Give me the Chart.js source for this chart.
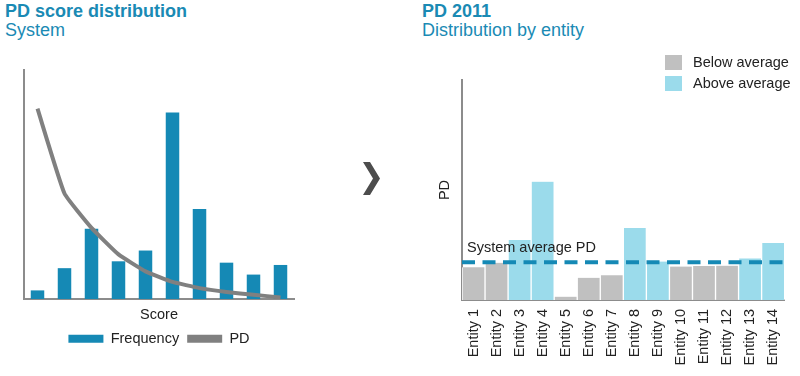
<!DOCTYPE html>
<html>
<head>
<meta charset="utf-8">
<script src="https://cdn.jsdelivr.net/npm/chart.js@4.4.0/dist/chart.umd.min.js"></script>
<style>
  body { margin: 0; width: 800px; height: 376px; position: relative; overflow: hidden; background: #fff;
         font-family: "Liberation Sans", Arial, sans-serif; color: #222; }
  .heading { position: absolute; top: 1.5px; font-size: 18px; line-height: 19px; color: #1a8ab4; }
  .heading b { display: block; }
  canvas { position: absolute; top: 0; }
  #chevron { position: absolute; left: 0; top: 0; }
  .legend { position: absolute; left: 665px; top: 55px; font-size: 14.5px; }
  .legend div { height: 21px; position: relative; }
  .legend span.box { position: absolute; left: 0; top: 0; width: 17px; height: 15px; }
  .legend span.txt { position: absolute; left: 28px; top: -1px; white-space: nowrap; }
</style>
</head>
<body>

<div class="heading" style="left:5px"><b>PD score distribution</b>System</div>
<div class="heading" style="left:422px"><b>PD 2011</b>Distribution by entity</div>

<canvas id="scoreChart" width="310" height="376" style="left:0"></canvas>

<svg id="chevron" width="800" height="376">
  <polygon points="363,162 370,162 380,178.5 370,195 363,195 373,178.5" fill="#4d4d4d"/>
</svg>

<canvas id="entityChart" width="400" height="376" style="left:400px"></canvas>

<div class="legend" id="entityLegend"></div>

<script>
// Left chart: score distribution
const scoreBins = ['1', '2', '3', '4', '5', '6', '7', '8', '9', '10'];
const frequency = [3.8, 13.5, 30.7, 16.5, 21.2, 81.4, 39.3, 15.9, 10.7, 14.9];
const pdCurve = [83.1, 46.1, 31.1, 19.5, 12.1, 7.5, 4.8, 3.1, 1.9, 0.7];

// Right chart: PD by entity
const entities = ['Entity 1', 'Entity 2', 'Entity 3', 'Entity 4', 'Entity 5', 'Entity 6', 'Entity 7',
                  'Entity 8', 'Entity 9', 'Entity 10', 'Entity 11', 'Entity 12', 'Entity 13', 'Entity 14'];
const entityPD = [14.9, 16.9, 27.3, 53.8, 1.5, 10.1, 11.2, 32.7, 17.5, 15.2, 15.5, 15.6, 18.9, 25.9];
const systemAverage = 17.2;

const BLUE = '#1589b5';
const LIGHT_BLUE = '#9bdbeb';
const GREY = '#c0c0c0';
const AXIS = '#8c8c8c';

Chart.defaults.font.family = '"Liberation Sans", Arial, sans-serif';
Chart.defaults.font.size = 14.5;
Chart.defaults.color = '#222';

new Chart(document.getElementById('scoreChart'), {
  data: {
    labels: scoreBins,
    datasets: [
      {
        type: 'bar',
        label: 'Frequency',
        data: frequency,
        backgroundColor: BLUE,
        barPercentage: 0.5,
        categoryPercentage: 1,
        order: 1
      },
      {
        type: 'line',
        label: 'PD',
        data: pdCurve,
        borderColor: '#808080',
        backgroundColor: '#808080',
        borderWidth: 4,
        pointRadius: 0,
        tension: 0.12,
        order: 0
      }
    ]
  },
  options: {
    responsive: false,
    animation: false,
    layout: { padding: { top: 70, left: 24, right: 16, bottom: 20 } },
    scales: {
      x: {
        grid: { display: false, drawTicks: false },
        border: { color: AXIS, width: 2 },
        ticks: { display: false },
        title: { display: true, text: 'Score', padding: { top: 7, bottom: 0 } }
      },
      y: {
        min: 0,
        max: 100,
        grid: { display: false, drawTicks: false },
        border: { color: AXIS, width: 2 },
        ticks: { display: false }
      }
    },
    plugins: {
      tooltip: { enabled: false },
      legend: {
        position: 'bottom',
        labels: {
          boxWidth: 35,
          boxHeight: 8,
          padding: 8,
          sort: (a, b) => a.datasetIndex - b.datasetIndex,
          generateLabels: (chart) =>
            Chart.defaults.plugins.legend.labels.generateLabels(chart).map((item) => {
              const ds = chart.data.datasets[item.datasetIndex];
              item.lineWidth = 0;
              item.fillStyle = ds.type === 'line' ? ds.borderColor : ds.backgroundColor;
              return item;
            })
        }
      }
    }
  }
});

// Dashed system average line with its caption
const averageLine = {
  id: 'averageLine',
  afterDatasetsDraw(chart) {
    const { ctx, chartArea, scales: { y } } = chart;
    const yPos = y.getPixelForValue(systemAverage);
    ctx.save();
    ctx.strokeStyle = BLUE;
    ctx.lineWidth = 4;
    ctx.setLineDash([13, 7.5]);
    ctx.beginPath();
    ctx.moveTo(chartArea.left, yPos);
    ctx.lineTo(chartArea.right + 5, yPos);
    ctx.stroke();
    ctx.setLineDash([]);
    ctx.fillStyle = '#222';
    ctx.font = '14.5px "Liberation Sans", Arial, sans-serif';
    ctx.fillText('System average PD', chartArea.left + 5, yPos - 10);
    ctx.restore();
  }
};

new Chart(document.getElementById('entityChart'), {
  type: 'bar',
  data: {
    labels: entities,
    datasets: [{
      label: 'PD',
      data: entityPD,
      backgroundColor: entityPD.map((v) => (v > systemAverage ? LIGHT_BLUE : GREY)),
      borderColor: '#fff',
      borderWidth: { left: 1, right: 1 },
      borderSkipped: 'bottom',
      barPercentage: 1,
      categoryPercentage: 1
    }]
  },
  options: {
    responsive: false,
    animation: false,
    layout: { padding: { top: 80, left: 28.6, right: 13, bottom: 1.6 } },
    scales: {
      x: {
        grid: { display: false, drawTicks: false },
        border: { color: AXIS, width: 2 },
        ticks: { autoSkip: false, minRotation: 90, maxRotation: 90, padding: 9 }
      },
      y: {
        min: 0,
        max: 100,
        grid: { display: false, drawTicks: false },
        border: { color: AXIS, width: 2 },
        ticks: { display: false },
        title: { display: true, text: 'PD', padding: 8 }
      }
    },
    plugins: {
      tooltip: { enabled: false },
      legend: { display: false }
    }
  },
  plugins: [averageLine]
});

// Legend for the entity chart
const legendItems = [['Below average', GREY], ['Above average', LIGHT_BLUE]];
const legendEl = document.getElementById('entityLegend');
legendItems.forEach(([text, color]) => {
  const row = document.createElement('div');
  row.innerHTML = `<span class="box" style="background:${color}"></span><span class="txt">${text}</span>`;
  legendEl.appendChild(row);
});
</script>
</body>
</html>
